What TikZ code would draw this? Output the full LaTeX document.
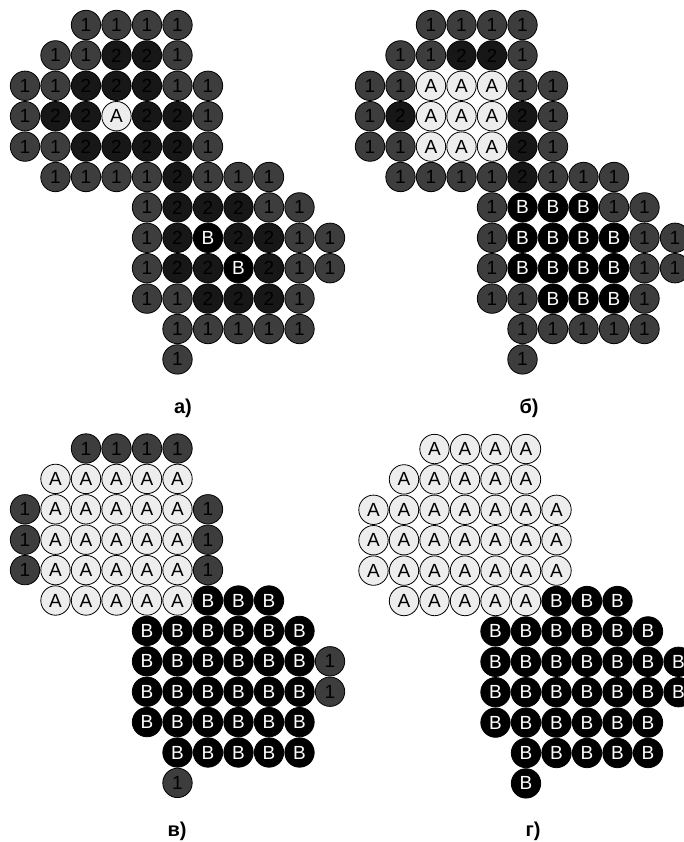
\documentclass[tikz,border=0pt]{standalone}
\usepackage{fontspec}
\setmainfont{Liberation Sans}
\definecolor{oneg}{gray}{0.24}
\definecolor{twog}{gray}{0.09}
\definecolor{ag}{gray}{0.93}
\tikzset{
  cell/.style={circle,draw=black,line width=0.8pt,minimum size=29.4pt,inner sep=0pt,
    font=\fontsize{19}{20}\selectfont},
  c1/.style={cell,fill=oneg,text=black},
  c2/.style={cell,fill=twog,text=black},
  cA/.style={cell,fill=ag,text=black},
  cB/.style={cell,fill=black,text=white},
  lbl/.style={font=\fontsize{20}{22}\selectfont\bfseries}
}
% one panel: name, x of column 0, y of row 0, rows as row/first column/labels
\newcommand{\cellpanel}[4]{%
  \foreach \r/\s/\labs in {#4}{
    \foreach \lab [count=\c from \s] in \labs
      \node[c\lab] (#1-\r-\c) at ({#2+30.5*\c},{#3+30.4*\r}) {\lab};
  }}
\begin{document}
\begin{tikzpicture}[x=1pt,y=-1pt]
\useasboundingbox (0,0) rectangle (683,842);
\cellpanel{a}{25}{25}{0/2/{1,1,1,1}, 1/1/{1,1,2,2,1}, 2/0/{1,1,2,2,2,1,1},
  3/0/{1,2,2,A,2,2,1}, 4/0/{1,1,2,2,2,2,1}, 5/1/{1,1,1,1,2,1,1,1},
  6/4/{1,2,2,2,1,1}, 7/4/{1,2,B,2,2,1,1}, 8/4/{1,2,2,B,2,1,1},
  9/4/{1,1,2,2,2,1}, 10/5/{1,1,1,1,1}, 11/5/{1}}
\cellpanel{b}{370}{25}{0/2/{1,1,1,1}, 1/1/{1,1,2,2,1}, 2/0/{1,1,A,A,A,1,1},
  3/0/{1,2,A,A,A,2,1}, 4/0/{1,1,A,A,A,2,1}, 5/1/{1,1,1,1,2,1,1,1},
  6/4/{1,B,B,B,1,1}, 7/4/{1,B,B,B,B,1,1}, 8/4/{1,B,B,B,B,1,1},
  9/4/{1,1,B,B,B,1}, 10/5/{1,1,1,1,1}, 11/5/{1}}
\cellpanel{c}{25}{448.5}{0/2/{1,1,1,1}, 1/1/{A,A,A,A,A}, 2/0/{1,A,A,A,A,A,1},
  3/0/{1,A,A,A,A,A,1}, 4/0/{1,A,A,A,A,A,1}, 5/1/{A,A,A,A,A,B,B,B},
  6/4/{B,B,B,B,B,B}, 7/4/{B,B,B,B,B,B,1}, 8/4/{B,B,B,B,B,B,1},
  9/4/{B,B,B,B,B,B}, 10/5/{B,B,B,B,B}, 11/5/{1}}
\cellpanel{d}{373.5}{449}{0/2/{A,A,A,A}, 1/1/{A,A,A,A,A}, 2/0/{A,A,A,A,A,A,A},
  3/0/{A,A,A,A,A,A,A}, 4/0/{A,A,A,A,A,A,A}, 5/1/{A,A,A,A,A,B,B,B},
  6/4/{B,B,B,B,B,B}, 7/4/{B,B,B,B,B,B,B}, 8/4/{B,B,B,B,B,B,B},
  9/4/{B,B,B,B,B,B}, 10/5/{B,B,B,B,B}, 11/5/{B}}
% captions
\node[lbl] (capa) at (183,408) {а)};
\node[lbl] (capb) at (529,408) {б)};
\node[lbl] (capc) at (177,831) {в)};
\node[lbl] (capd) at (533,831) {г)};
\end{tikzpicture}
\end{document}
